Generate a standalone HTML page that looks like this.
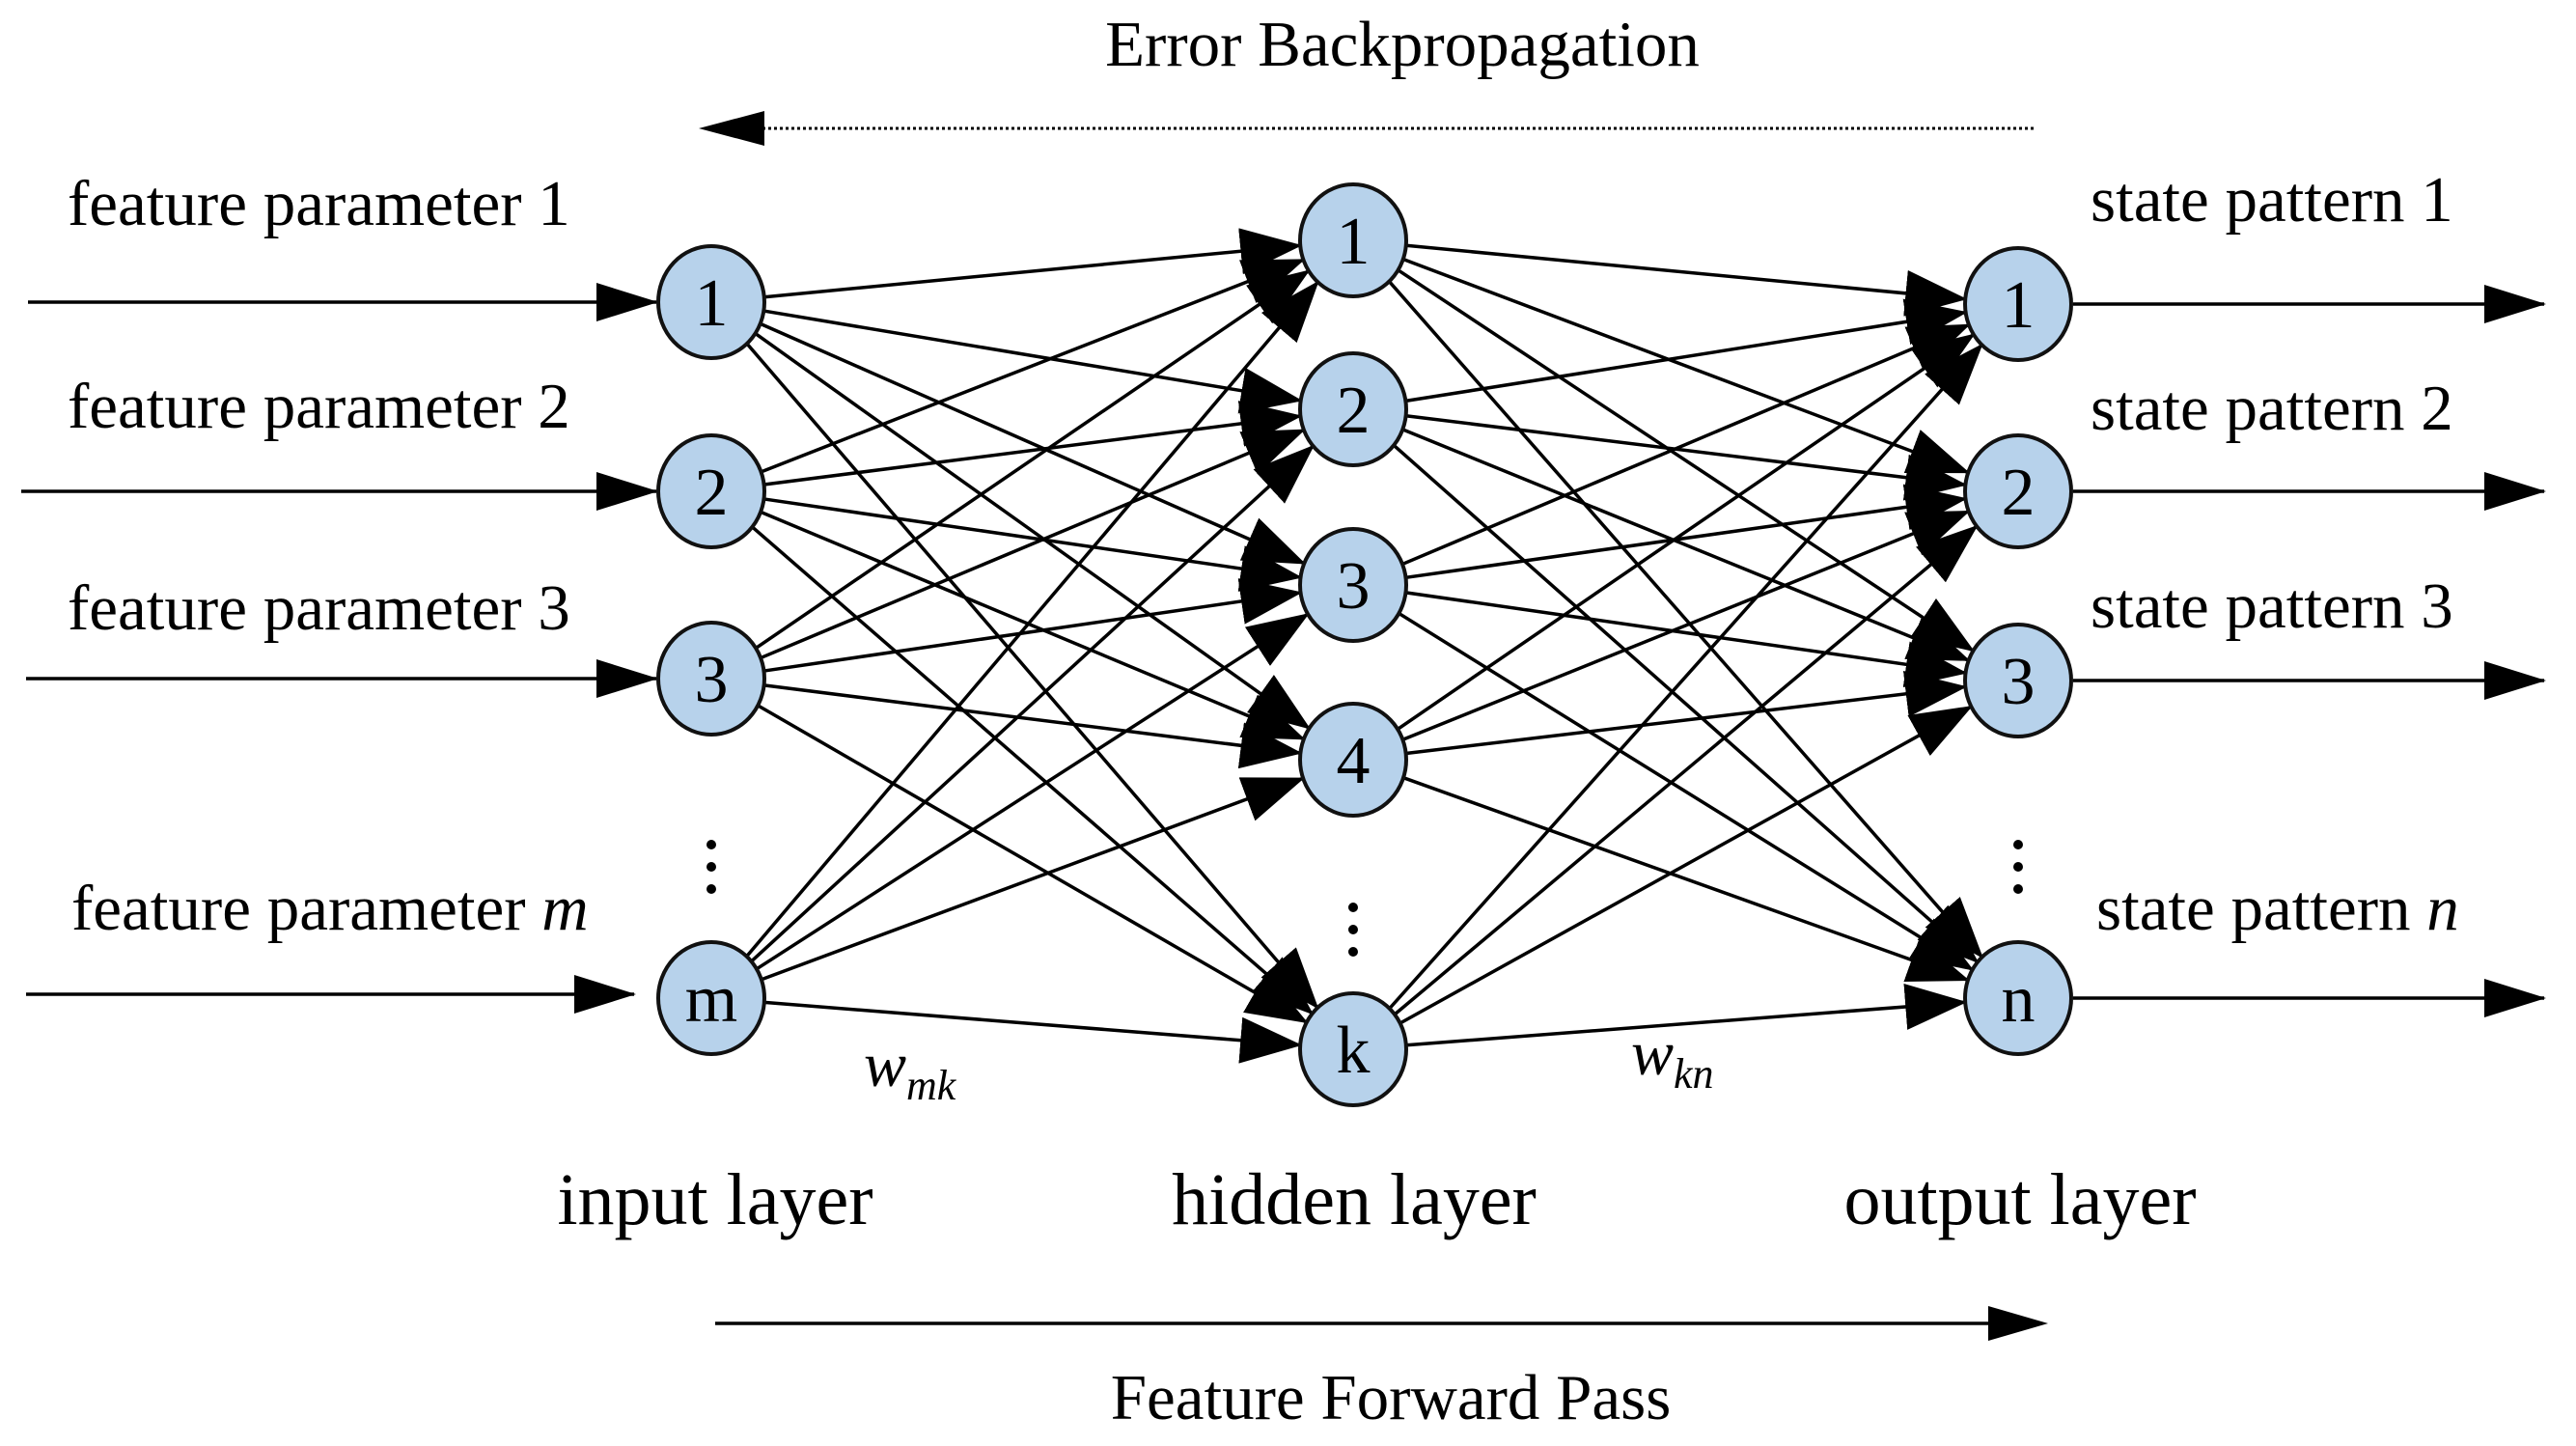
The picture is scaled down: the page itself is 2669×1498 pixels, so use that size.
<!DOCTYPE html>
<html><head><meta charset="utf-8"><style>
html,body{margin:0;padding:0;background:#fff;}
svg{display:block;}
text{font-family:"Liberation Serif",serif;fill:#000;}
</style></head><body>
<svg id="s" width="2669" height="1498" viewBox="0 0 2669 1498" xmlns="http://www.w3.org/2000/svg">
<defs>
<marker id="a" markerUnits="userSpaceOnUse" markerWidth="64" markerHeight="48" refX="62" refY="24" orient="auto"><path d="M0,0 L64,24 L0,48 Z" fill="#000"/></marker>
<marker id="b" markerUnits="userSpaceOnUse" markerWidth="64" markerHeight="40" refX="62" refY="20" orient="auto"><path d="M0,0 L64,20 L0,40 Z" fill="#000"/></marker>
</defs>
<g id="edges" stroke="#000" stroke-width="3.5"></g>
<g id="nodes"></g>
<g font-size="67">
<text x="70" y="233">feature parameter 1</text>
<text x="70" y="443">feature parameter 2</text>
<text x="70" y="652">feature parameter 3</text>
<text x="74" y="963">feature parameter <tspan font-style="italic">m</tspan></text>
<text x="2166" y="229">state pattern 1</text>
<text x="2166" y="445">state pattern 2</text>
<text x="2166" y="650">state pattern 3</text>
<text x="2172" y="963">state pattern <tspan font-style="italic">n</tspan></text>
<text x="1453" y="68" text-anchor="middle">Error Backpropagation</text>
<text x="1441" y="1470" text-anchor="middle">Feature Forward Pass</text>
</g>
<g font-size="76" text-anchor="middle">
<text x="741" y="1268">input layer</text>
<text x="1403" y="1268">hidden layer</text>
<text x="2093" y="1268">output layer</text>
</g>
<text x="895" y="1125" font-size="66" font-style="italic">w<tspan font-size="44" dy="14">mk</tspan></text>
<text x="1690" y="1113" font-size="66" font-style="italic">w<tspan font-size="44" dy="14">kn</tspan></text>
<line x1="790" y1="133" x2="2107" y2="133" stroke="#000" stroke-width="3" stroke-dasharray="3,3"/>
<path d="M724,133 L792,115 L792,151 Z" fill="#000"/>
<line x1="741" y1="1371" x2="2065" y2="1371" stroke="#000" stroke-width="3.5"/>
<path d="M2122,1371 L2060,1353 L2060,1389 Z" fill="#000"/>
<g fill="#000">
<circle cx="737" cy="875" r="5"/><circle cx="737" cy="898" r="5"/><circle cx="737" cy="921" r="5"/>
<circle cx="1402" cy="940" r="5"/><circle cx="1402" cy="963" r="5"/><circle cx="1402" cy="986" r="5"/>
<circle cx="2091" cy="875" r="5"/><circle cx="2091" cy="898" r="5"/><circle cx="2091" cy="921" r="5"/>
</g>
</svg>
<script>
var NS="http://www.w3.org/2000/svg";
var rx=55,ry=58;
var inp=[[737,313,"1"],[737,509,"2"],[737,703,"3"],[737,1034,"m"]];
var hid=[[1402,249,"1"],[1402,424,"2"],[1402,606,"3"],[1402,787,"4"],[1402,1087,"k"]];
var out=[[2091,315,"1"],[2091,509,"2"],[2091,705,"3"],[2091,1034,"n"]];
var E=document.getElementById("edges"),N=document.getElementById("nodes");
function ln(x1,y1,x2,y2,m){var l=document.createElementNS(NS,"line");l.setAttribute("x1",x1);l.setAttribute("y1",y1);l.setAttribute("x2",x2);l.setAttribute("y2",y2);if(m)l.setAttribute("marker-end","url(#"+m+")");E.appendChild(l);}
function edge(p,q){var dx=q[0]-p[0],dy=q[1]-p[1];var t=1/Math.sqrt((dx*dx)/(rx*rx)+(dy*dy)/(ry*ry));
 ln(p[0]+dx*t,p[1]+dy*t,q[0]-dx*t,q[1]-dy*t,"a");}
inp.forEach(function(p){hid.forEach(function(q){edge(p,q);});});
hid.forEach(function(p){out.forEach(function(q){edge(p,q);});});
ln(29,313,680,313,"b");ln(22,509,680,509,"b");ln(27,703,680,703,"b");ln(27,1030,657,1030,"b");
out.forEach(function(o){ln(2148,o[1],2636,o[1],"b");});
inp.concat(hid,out).forEach(function(n){var e=document.createElementNS(NS,"ellipse");e.setAttribute("cx",n[0]);e.setAttribute("cy",n[1]);e.setAttribute("rx",rx);e.setAttribute("ry",ry);e.setAttribute("fill","#b7d2eb");e.setAttribute("stroke","#111");e.setAttribute("stroke-width","4");N.appendChild(e);
var t=document.createElementNS(NS,"text");t.setAttribute("x",n[0]);t.setAttribute("y",n[1]+24);t.setAttribute("text-anchor","middle");t.setAttribute("font-size","70");t.textContent=n[2];N.appendChild(t);});
</script>
</body></html>
